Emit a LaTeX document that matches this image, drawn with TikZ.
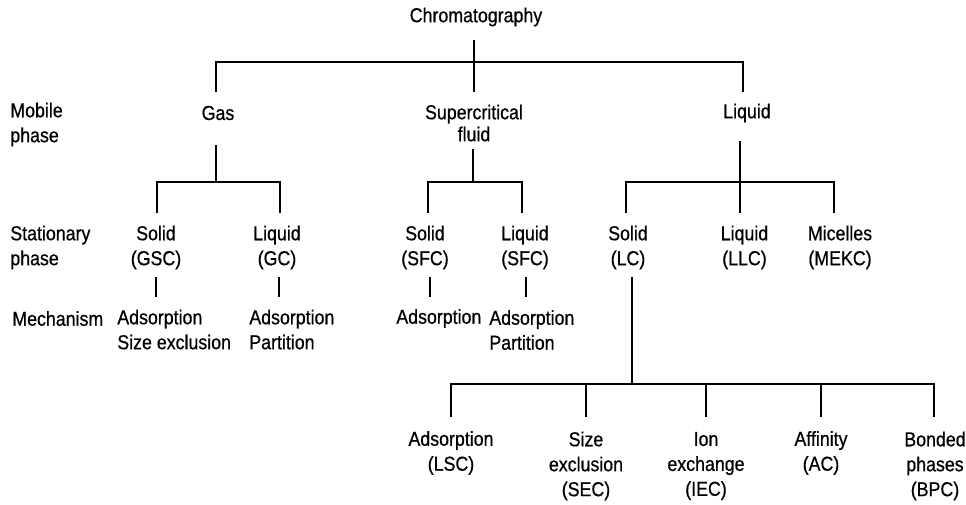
\documentclass[tikz,border=0pt]{standalone}
\usepackage{fontspec}
\setmainfont[FakeStretch=0.88,FakeBold=0.6]{Liberation Sans}
\begin{document}
\begin{tikzpicture}[x=0.02cm,y=-0.02cm,
  lbl/.style={font=\fontsize{11.5}{14.2}\selectfont, inner sep=0pt, align=center},
  side/.style={lbl, align=left, anchor=west},
  ln/.style={line width=1.2pt},
  tk/.style={line width=1pt}]
\useasboundingbox[fill=white] (0,0) rectangle (966,504);

% side labels
\node[side] (mob) at (10,124.5) {Mobile\\phase};
\node[side] (sta) at (10,247.5) {Stationary\\phase};
\node[side] (mec) at (12,318.5) {Mechanism};

% tree nodes
\node[lbl] (chrom) at (476,17) {Chromatography};
\node[lbl] (gas) at (218,113) {Gas};
\node[lbl,font=\fontsize{11.5}{12.5}\selectfont] (sf) at (474,123) {Supercritical\\fluid};
\node[lbl] (liq) at (747,113) {Liquid};

\node[lbl] (sgsc) at (156,247.5) {Solid\\(GSC)};
\node[lbl] (lgc) at (277,247.5) {Liquid\\(GC)};
\node[lbl] (ssfc) at (425,247.5) {Solid\\(SFC)};
\node[lbl] (lsfc) at (525,247.5) {Liquid\\(SFC)};
\node[lbl] (slc) at (628,247.5) {Solid\\(LC)};
\node[lbl] (llc) at (744.5,247.5) {Liquid\\(LLC)};
\node[lbl] (mic) at (840,247.5) {Micelles\\(MEKC)};

\node[side] (mg1) at (117,329.5) {Adsorption\\Size exclusion};
\node[side] (mg2) at (249,329.5) {Adsorption\\Partition};
\node[side] (ms1) at (396,318.5) {Adsorption};
\node[side] (ms2) at (489,330) {Adsorption\\Partition};

\node[lbl] (lsc) at (451,453) {Adsorption\\(LSC)};
\node[lbl] (sec) at (586,466) {Size\\exclusion\\(SEC)};
\node[lbl] (iec) at (706,466) {Ion\\exchange\\(IEC)};
\node[lbl] (ac) at (821,453) {Affinity\\(AC)};
\node[lbl] (bpc) at (935,466) {Bonded\\phases\\(BPC)};

% junction coordinates
\coordinate (c0) at (474,40);
\coordinate (jroot) at (474,62);
\coordinate (sfT) at (474,92);
\coordinate (gasT) at (216,92);
\coordinate (liqT) at (743,92);

\coordinate (g0) at (216,145);
\coordinate (gj) at (216,182);
\coordinate (sgscT) at (157,213);
\coordinate (lgcT) at (280,213);

\coordinate (s0) at (473,149);
\coordinate (sj) at (473,182);
\coordinate (ssfcT) at (428,213);
\coordinate (lsfcT) at (522,213);

\coordinate (l0) at (740,141);
\coordinate (lj) at (740,182);
\coordinate (slcT) at (626,213);
\coordinate (llcT) at (740,213);
\coordinate (micT) at (834,213);

\coordinate (sgscB) at (156,277); \coordinate (mg1T) at (156,297);
\coordinate (lgcB) at (279,277);  \coordinate (mg2T) at (279,297);
\coordinate (ssfcB) at (430,277); \coordinate (ms1T) at (430,297);
\coordinate (lsfcB) at (526,277); \coordinate (ms2T) at (526,297);

\coordinate (slcB) at (632,277);
\coordinate (bj) at (632,384);
\coordinate (lscT) at (451,417);
\coordinate (secT) at (586,417);
\coordinate (iecT) at (706,417);
\coordinate (acT) at (821,417);
\coordinate (bpcT) at (934,417);

% connectors
\draw[ln] (c0) -- (sfT);
\draw[ln] (gasT) |- (jroot) -| (liqT);

\draw[ln] (g0) -- (gj);
\draw[ln] (sgscT) |- (gj) -| (lgcT);

\draw[ln] (s0) -- (sj);
\draw[ln] (ssfcT) |- (sj) -| (lsfcT);

\draw[ln] (l0) -- (llcT);
\draw[ln] (slcT) |- (lj) -| (micT);

\draw[tk] (sgscB) -- (mg1T);
\draw[tk] (lgcB) -- (mg2T);
\draw[tk] (ssfcB) -- (ms1T);
\draw[tk] (lsfcB) -- (ms2T);

\draw[ln] (slcB) -- (bj);
\draw[ln] (lscT) |- (bj) -| (bpcT);
\draw[tk] (secT |- bj) -- (secT);
\draw[tk] (iecT |- bj) -- (iecT);
\draw[tk] (acT |- bj) -- (acT);
\end{tikzpicture}
\end{document}
